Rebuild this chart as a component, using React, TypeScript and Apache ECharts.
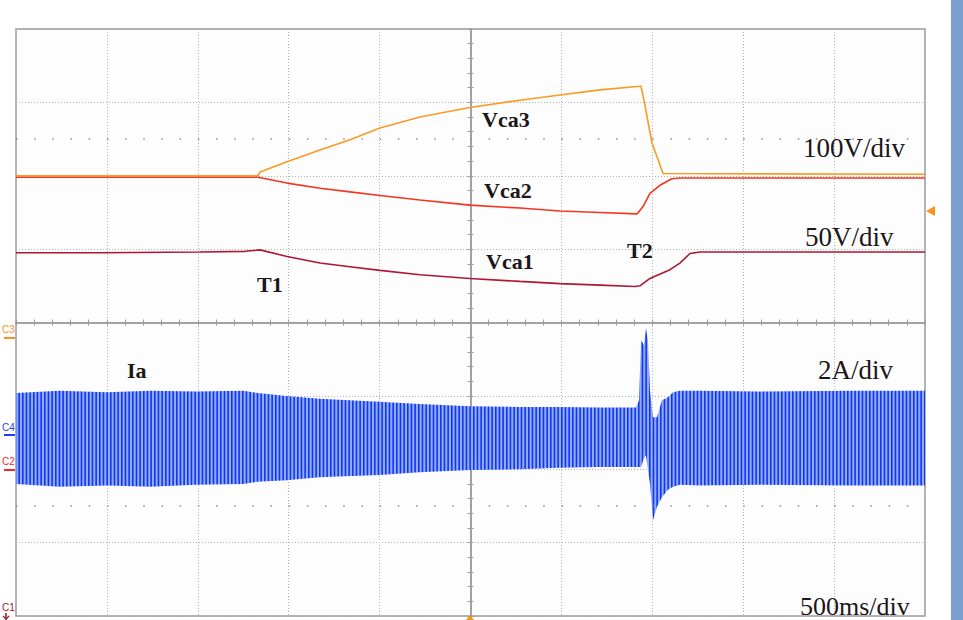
import React, { useEffect, useRef } from 'react';
import * as echarts from 'echarts';

// Time in seconds relative to the trigger (500 ms/div); values in screen divisions.
const vca3T = [-2.5, -1.169, -1.158, -1.009, -0.828, -0.663, -0.498, -0.278, -0.003, 0.272, 0.492, 0.712, 0.932, 0.938, 0.954, 0.998, 1.059, 2.5];
const vca3V = [2.0, 2.0, 2.05, 2.19, 2.35, 2.49, 2.65, 2.8, 2.93, 3.03, 3.1, 3.17, 3.22, 3.22, 3.03, 2.45, 2.03, 2.02];

const vca2T = [-2.5, -1.169, -1.009, -0.828, -0.663, -0.498, -0.278, -0.003, 0.272, 0.492, 0.712, 0.916, 0.949, 0.987, 1.042, 1.108, 1.152, 2.5];
const vca2V = [1.98, 1.98, 1.9, 1.83, 1.78, 1.73, 1.67, 1.6, 1.56, 1.52, 1.5, 1.48, 1.58, 1.76, 1.87, 1.96, 1.97, 1.97];

const vca1T = [-2.5, -2.038, -1.488, -1.24, -1.158, -1.009, -0.828, -0.663, -0.498, -0.278, -0.003, 0.272, 0.492, 0.712, 0.905, 0.932, 0.987, 1.097, 1.152, 1.207, 1.262, 2.5];
const vca1V = [0.95, 0.95, 0.96, 0.97, 0.99, 0.9, 0.81, 0.76, 0.71, 0.65, 0.6, 0.56, 0.53, 0.51, 0.49, 0.5, 0.6, 0.72, 0.81, 0.94, 0.96, 0.96];

// Ia envelope (upper / lower extent of the current band)
const iaT = [-2.5, -2.26, -2.0, -1.76, -1.51, -1.25, -1.17, -1.01, -0.83, -0.5, -0.28, 0.0, 0.27, 0.49, 0.71, 0.91, 0.927, 0.938, 0.954, 0.965, 0.976, 0.987, 1.004, 1.026, 1.053, 1.086, 1.114, 1.152, 1.26, 1.59, 2.09, 2.5];
const iaHi = [-0.96, -0.93, -0.95, -0.93, -0.94, -0.93, -0.96, -1.0, -1.04, -1.08, -1.11, -1.14, -1.15, -1.15, -1.16, -1.16, -1.06, -0.24, -0.31, -0.08, -0.24, -0.92, -1.29, -1.29, -1.06, -1.02, -0.95, -0.93, -0.93, -0.94, -0.93, -0.93];
const iaLo = [-2.2, -2.24, -2.22, -2.24, -2.21, -2.2, -2.17, -2.15, -2.11, -2.08, -2.04, -2.01, -2.0, -1.98, -1.97, -1.97, -1.97, -1.97, -1.85, -1.81, -2.0, -2.19, -2.69, -2.51, -2.38, -2.28, -2.24, -2.21, -2.22, -2.21, -2.22, -2.22];

const zip = (a: number[], b: number[]) => a.map((t, i) => [t, b[i]]);

const GRID_C = '#9c9c9c';

function makeStripes() {
  const c = document.createElement('canvas');
  c.width = 11;
  c.height = 4;
  const g = c.getContext('2d')!;
  g.fillStyle = '#93abf6';
  g.fillRect(0, 0, 11, 4);
  g.fillStyle = '#0f37f2';
  [0, 3.67, 7.33].forEach((x) => g.fillRect(x, 0, 1.6, 4));
  return c;
}

function axisX(inside: boolean, split: boolean) {
  return {
    type: 'value', min: -2.5, max: 2.5, interval: 0.5, position: 'bottom',
    axisLine: { show: true, onZero: true, lineStyle: { color: GRID_C, width: 1.5 } },
    axisTick: { show: true, inside, length: 3, lineStyle: { color: GRID_C } },
    minorTick: { show: true, splitNumber: 5, length: 3, lineStyle: { color: GRID_C } },
    axisLabel: { show: false },
    splitLine: { show: split, lineStyle: { color: '#b2b2b2', type: [1, 2], width: 1 } },
  };
}
function axisY(inside: boolean, split: boolean) {
  return {
    type: 'value', min: -4, max: 4, interval: 1, position: 'left',
    axisLine: { show: true, onZero: true, lineStyle: { color: GRID_C, width: 1.5 } },
    axisTick: { show: true, inside, length: 3, lineStyle: { color: GRID_C } },
    minorTick: { show: true, splitNumber: 5, length: 3, lineStyle: { color: GRID_C } },
    axisLabel: { show: false },
    splitLine: { show: split, lineStyle: { color: '#b2b2b2', type: [1, 2], width: 1 } },
  };
}

const SERIF = '"Liberation Serif", "Times New Roman", serif';

function txt(text: string, x: number, y: number, font: string, fill = '#1c1618') {
  return {
    type: 'text', x, y, z: 100,
    style: { text, font, fill, align: 'left', verticalAlign: 'middle', textAlign: 'left', textVerticalAlign: 'middle' },
  };
}
function seg(x1: number, y1: number, x2: number, y2: number, stroke: string, w = 1.5) {
  return { type: 'line', z: 100, shape: { x1, y1, x2, y2 }, style: { stroke, lineWidth: w } };
}

export default function App() {
  const ref = useRef<HTMLDivElement>(null);
  useEffect(() => {
    document.body.style.margin = '0';
    const chart = echarts.init(ref.current!, null, { renderer: 'svg' });
    const stripes = makeStripes();
    const bold = `bold 22px ${SERIF}`;
    const reg = `27px ${SERIF}`;
    const small = '10px "Liberation Sans", Arial, sans-serif';
    chart.setOption({
      animation: false,
      backgroundColor: '#ffffff',
      grid: { left: 16, top: 29, right: 38, bottom: 4, show: true, borderColor: '#9a9a9a', borderWidth: 1.5, backgroundColor: '#fdfdfd' },
      xAxis: [axisX(true, true), axisX(false, false)],
      yAxis: [axisY(true, true), axisY(false, false)],
      series: [
        {
          type: 'custom', name: 'Ia', coordinateSystem: 'cartesian2d', z: 2,
          data: [[0, 0]],
          renderItem: (_p: any, api: any) => {
            const pts: number[][] = [];
            for (let i = 0; i < iaT.length; i++) pts.push(api.coord([iaT[i], iaHi[i]]));
            for (let i = iaT.length - 1; i >= 0; i--) pts.push(api.coord([iaT[i], iaLo[i]]));
            return {
              type: 'polygon', shape: { points: pts },
              style: { fill: { image: stripes, repeat: 'repeat', imageWidth: 11, imageHeight: 4 } },
            };
          },
        },
        {
          type: 'line', name: 'Vca1', data: zip(vca1T, vca1V), showSymbol: false, z: 3,
          lineStyle: { color: '#ad1733', width: 1.6 },
          markLine: {
            silent: true, symbol: ['none', 'none'], label: { show: false },
            lineStyle: { color: '#8c8c8c', width: 1.5, type: [1.5, 16.68] },
            data: [{ yAxis: 2.5 }, { yAxis: -2.5 }],
          },
        },
        { type: 'line', name: 'Vca2', data: zip(vca2T, vca2V), showSymbol: false, z: 3, lineStyle: { color: '#f5351f', width: 1.6 } },
        { type: 'line', name: 'Vca3', data: zip(vca3T, vca3V), showSymbol: false, z: 4, lineStyle: { color: '#fb9a22', width: 1.6 } },
      ],
      graphic: [
        { type: 'rect', z: 100, shape: { x: 951, y: 0, width: 12, height: 620 }, style: { fill: '#7aa0d0' } },
        { type: 'polygon', z: 100, shape: { points: [[935, 206], [935, 216], [926, 211]] }, style: { fill: '#f7931e' } },
        { type: 'polygon', z: 100, shape: { points: [[466, 620], [474, 620], [470, 615]] }, style: { fill: '#f7931e' } },
        txt('Vca3', 482, 119, bold),
        txt('Vca2', 484, 190.5, bold),
        txt('Vca1', 486, 261.5, bold),
        txt('T1', 257, 284, bold),
        txt('T2', 627, 250, bold),
        txt('Ia', 127, 370, bold),
        txt('100V/div', 803, 148, reg),
        txt('50V/div', 805, 237, reg),
        txt('2A/div', 818, 370, reg),
        txt('500ms/div', 800, 606, `26px ${SERIF}`),
        txt('C3', 2, 329, small, '#f7931e'),
        seg(4, 338, 15, 338, '#f7931e', 2),
        txt('C4', 2, 427, small, '#1f3cf0'),
        seg(4, 435, 15, 435, '#1f3cf0', 2),
        txt('C2', 2, 461, small, '#f02a2a'),
        seg(4, 470, 15, 470, '#f02a2a', 2),
        txt('C1', 2, 607, small, '#a0142c'),
        seg(6, 613, 6, 620, '#a0142c', 1.5),
        seg(3, 616, 6, 619, '#a0142c', 1.2),
        seg(9, 616, 6, 619, '#a0142c', 1.2),
      ],
    });
    return () => chart.dispose();
  }, []);
  return <div ref={ref} style={{ position: 'fixed', left: 0, top: 0, width: 963, height: 620, background: '#fff' }} />;
}
